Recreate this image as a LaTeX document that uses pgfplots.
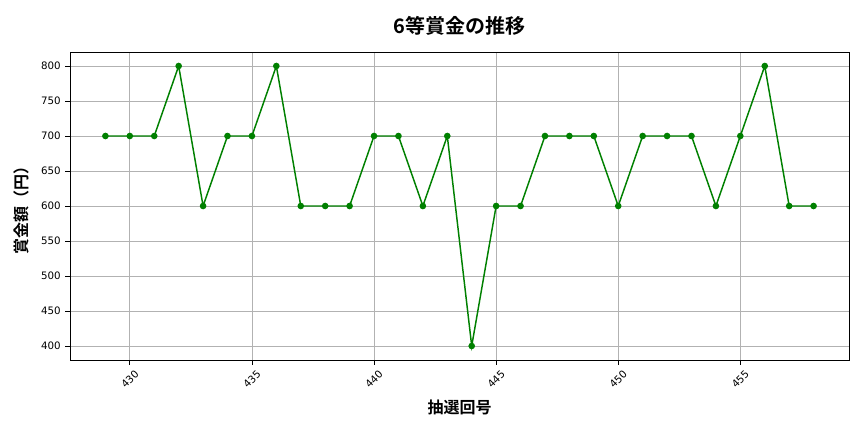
\documentclass[border=0pt]{standalone}
\usepackage{pgfplots}
\pgfplotsset{compat=1.18}
\usepackage{fontspec}
\setmainfont{Noto Sans CJK JP}[BoldFont={Noto Sans CJK JP Bold}]
\newfontfamily\tickfont{DejaVu Sans}
\definecolor{mplgreen}{RGB}{0,128,0}
\begin{document}
\begin{tikzpicture}
\useasboundingbox (-52.5pt,-54pt) rectangle (595.5pt,270pt);
\begin{axis}[
  scale only axis,
  width=584.25pt, height=231pt,
  xmin=427.55, xmax=459.45,
  ymin=380, ymax=820,
  xtick={430,435,...,455},
  ytick={400,450,...,800},
  grid=major,
  grid style={color=gray!60, line width=0.6pt},
  axis line style={line width=0.6pt},
  tick style={black, line width=0.6pt},
  tick align=outside,
  major tick length=3.5pt,
  xtick pos=bottom, ytick pos=left,
  /pgf/number format/assume math mode=true,
  /pgf/number format/1000 sep={},
  ticklabel style={font=\tickfont\fontsize{7.7}{9}\selectfont},
  xticklabel style={yshift=-11pt, rotate=45, anchor=center},
  title={\bfseries 6等賞金の推移},
  title style={font=\fontsize{15}{17}\selectfont, yshift=3pt},
  xlabel={\bfseries 抽選回号},
  ylabel={\bfseries 賞金額（円）},
  label style={font=\fontsize{12}{14}\selectfont},
  xlabel style={yshift=0pt},
  ylabel style={yshift=2pt},
]
\addplot[color=mplgreen, line width=1.1pt, mark=*, mark size=1.9pt, mark options={fill=mplgreen, draw=mplgreen}]
coordinates {
(429,700)(430,700)(431,700)(432,800)(433,600)(434,700)(435,700)(436,800)(437,600)(438,600)
(439,600)(440,700)(441,700)(442,600)(443,700)(444,400)(445,600)(446,600)(447,700)(448,700)
(449,700)(450,600)(451,700)(452,700)(453,700)(454,600)(455,700)(456,800)(457,600)(458,600)
};
\end{axis}
\end{tikzpicture}
\end{document}
